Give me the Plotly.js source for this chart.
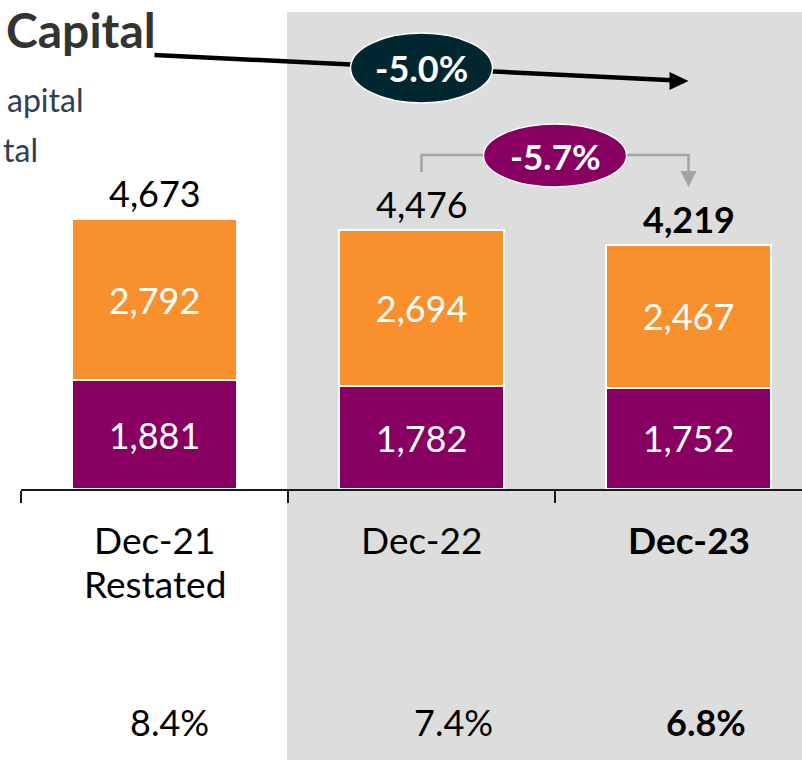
<!DOCTYPE html>
<html><head><meta charset="utf-8">
<script src="https://cdn.plot.ly/plotly-3.0.1.min.js"></script>
<style>html,body{margin:0;padding:0;background:#fff}#chart{width:802px;height:760px}</style>
</head><body><div id="chart"></div>
<script>
// ---- data ----
const categories = ['Dec-21', 'Dec-22', 'Dec-23'];
const categoryLabels = ['Dec-21<br>Restated', 'Dec-22', '<b>Dec-23</b>'];
const lowerValues = [1881, 1782, 1752];   // purple segment
const upperValues = [2792, 2694, 2467];   // orange segment
const totalValues = [4673, 4476, 4219];
const totalLabels = ['4,673', '4,476', '<b>4,219</b>'];
const ratioLabels = ['8.4%', '7.4%', '<b>6.8%</b>'];
const longChange = '-5.0%';
const shortChange = '-5.7%';
const titleText = 'Capital';
const legendFragments = ['apital', 'tal'];

// ---- layout helpers ----
const W = 802, H = 760, ML = 21, MB = 271, PH = H - MB;
const PX_PER_UNIT = 0.0578;
const CAT_PX = 267;
const py = p => (PH - p) / PH;          // pixel row -> paper y
const px = p => (p - ML) / (W - ML);    // pixel col -> paper x
const dx = p => p / CAT_PX;             // pixel width -> category units
const FONT = 'Lato, "Century Gothic", sans-serif';
const PURPLE = '#870061', ORANGE = '#F7902D', TEAL = '#00272F', GREYBG = '#DDDDDD', BRACKET = '#A3A3A3';

const traces = [
  {type: 'bar', x: categories, y: lowerValues, width: 0.618,
   marker: {color: PURPLE, line: {color: '#FFFFFF', width: 2}},
   texttemplate: '%{y:,}', textposition: 'inside', insidetextanchor: 'middle',
   textfont: {family: FONT, size: 36, color: '#FFFFFF'}, constraintext: 'none', hoverinfo: 'skip'},
  {type: 'bar', x: categories, y: upperValues, width: 0.618,
   marker: {color: ORANGE, line: {color: '#FFFFFF', width: 2}},
   texttemplate: '%{y:,}', textposition: 'inside', insidetextanchor: 'middle',
   textfont: {family: FONT, size: 36, color: '#FFFFFF'}, constraintext: 'none', hoverinfo: 'skip'}
];

const shapes = [
  // grey highlight panel
  {type: 'rect', xref: 'paper', yref: 'paper', x0: px(287), x1: 1, y0: py(H), y1: py(12),
   fillcolor: GREYBG, line: {width: 0}, layer: 'below'},
  // long black arrow Dec-21 -> Dec-23
  {type: 'line', xref: 'x', yref: 'paper', x0: 0, y0: py(55), x1: 2 - dx(16), y1: py(80.2),
   line: {color: '#000000', width: 4.5}},
  {type: 'path', xref: 'x', yref: 'paper',
   path: `M ${2},${py(81)} L ${2 - dx(19)},${py(72)} L ${2 - dx(19)},${py(90)} Z`,
   fillcolor: '#000000', line: {width: 0}},
  {type: 'circle', xref: 'x', yref: 'paper', x0: 1 - dx(71), x1: 1 + dx(71), y0: py(103), y1: py(33),
   fillcolor: TEAL, line: {color: '#FFFFFF', width: 1.5}},
  // grey bracket Dec-22 -> Dec-23
  {type: 'path', xref: 'x', yref: 'paper',
   path: `M 1,${py(172)} L 1,${py(155)} L 2,${py(155)} L 2,${py(172)}`,
   line: {color: BRACKET, width: 2.5}},
  {type: 'path', xref: 'x', yref: 'paper',
   path: `M 2,${py(187)} L ${2 - dx(8)},${py(171)} L ${2 + dx(8)},${py(171)} Z`,
   fillcolor: BRACKET, line: {width: 0}},
  {type: 'circle', xref: 'x', yref: 'paper', x0: 1.5 - dx(71.5), x1: 1.5 + dx(71.5), y0: py(187), y1: py(124),
   fillcolor: PURPLE, line: {color: '#FFFFFF', width: 1.5}}
];

const annotations = [
  {text: '<b>' + titleText + '</b>', xref: 'paper', yref: 'paper', x: px(158), y: py(29),
   xanchor: 'right', yanchor: 'middle', showarrow: false, font: {family: FONT, size: 48, color: '#333333'}},
  {text: legendFragments[0], xref: 'paper', yref: 'paper', x: px(85), y: py(99),
   xanchor: 'right', yanchor: 'middle', showarrow: false, font: {family: FONT, size: 32, color: '#2F3F52'}},
  {text: legendFragments[1], xref: 'paper', yref: 'paper', x: px(40), y: py(149),
   xanchor: 'right', yanchor: 'middle', showarrow: false, font: {family: FONT, size: 32, color: '#2F3F52'}},
  {text: '<b>' + longChange + '</b>', xref: 'x', yref: 'paper', x: 1, y: py(68),
   xanchor: 'center', yanchor: 'middle', showarrow: false, font: {family: FONT, size: 36, color: '#FFFFFF'}},
  {text: '<b>' + shortChange + '</b>', xref: 'x', yref: 'paper', x: 1.5, y: py(156),
   xanchor: 'center', yanchor: 'middle', showarrow: false, font: {family: FONT, size: 35, color: '#FFFFFF'}}
];
categories.forEach((c, i) => {
  annotations.push({text: totalLabels[i], xref: 'x', yref: 'y', x: i, y: totalValues[i],
    xanchor: 'center', yanchor: 'bottom', yshift: 2, showarrow: false,
    font: {family: FONT, size: 36, color: '#000000'}});
  categoryLabels[i].split('<br>').forEach((line, k) => {
    annotations.push({text: line, xref: 'x', yref: 'paper', x: i, y: py(539 + 44 * k),
      xanchor: 'center', yanchor: 'middle', showarrow: false,
      font: {family: FONT, size: 37, color: '#000000'}});
  });
});
const ratioShift = [15, 32, 17];
categories.forEach((c, i) => {
  annotations.push({text: ratioLabels[i], xref: 'x', yref: 'paper', x: i, xshift: ratioShift[i], y: py(722),
    xanchor: 'center', yanchor: 'middle', showarrow: false,
    font: {family: FONT, size: 36, color: '#000000'}});
});

const layout = {
  width: W, height: H,
  margin: {l: ML, r: 0, t: 0, b: MB, pad: 0},
  paper_bgcolor: '#FFFFFF', plot_bgcolor: 'rgba(0,0,0,0)',
  barmode: 'stack', showlegend: false, hovermode: false,
  xaxis: {type: 'category', range: [-0.5, 2.425], showline: true, linecolor: '#1A1A1A', linewidth: 2,
          ticks: 'outside', tickson: 'boundaries', ticklen: 12, tickwidth: 2, tickcolor: '#1A1A1A',
          showticklabels: false, showgrid: false, zeroline: false, fixedrange: true},
  yaxis: {range: [0, PH / PX_PER_UNIT], visible: false, showgrid: false, zeroline: false, fixedrange: true},
  shapes: shapes, annotations: annotations
};

Plotly.newPlot('chart', traces, layout, {displayModeBar: false, staticPlot: true});
</script>
</body></html>
